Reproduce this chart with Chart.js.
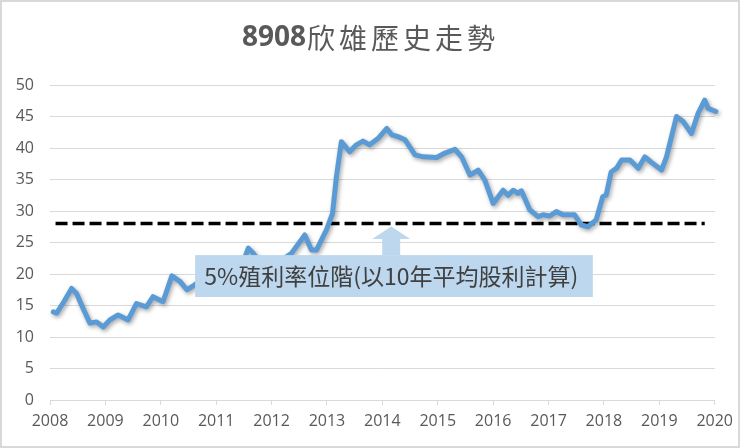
<!DOCTYPE html>
<html>
<head>
<meta charset="utf-8">
<script src="https://cdn.jsdelivr.net/npm/chart.js@4.4.1/dist/chart.umd.min.js"></script>
<style>
  html, body { margin: 0; padding: 0; background: #fff; }
  #wrap { width: 740px; height: 448px; position: relative; }
</style>
</head>
<body>
<div id="wrap"><canvas id="price-chart"></canvas></div>
<script>
// 8908 monthly-ish closing trend
const priceYears = [
  2008.06, 2008.12, 2008.25, 2008.39, 2008.48, 2008.60, 2008.72, 2008.84, 2008.96,
  2009.08, 2009.23, 2009.41, 2009.56, 2009.74, 2009.86,
  2010.04, 2010.20, 2010.35, 2010.47, 2010.60, 2010.75, 2010.90,
  2011.05, 2011.20, 2011.35, 2011.50, 2011.58, 2011.67, 2011.80, 2011.95,
  2012.10, 2012.25, 2012.36, 2012.60, 2012.72, 2012.81, 2012.99,
  2013.10, 2013.17, 2013.26, 2013.41, 2013.53, 2013.65, 2013.77, 2013.92,
  2014.08, 2014.17, 2014.28, 2014.41, 2014.59, 2014.74, 2014.98,
  2015.13, 2015.31, 2015.43, 2015.58, 2015.73, 2015.85,
  2016.00, 2016.18, 2016.27, 2016.36, 2016.45, 2016.51, 2016.66, 2016.81, 2016.90,
  2017.02, 2017.14, 2017.26, 2017.47, 2017.59, 2017.71, 2017.86, 2017.98,
  2018.04, 2018.13, 2018.23, 2018.32, 2018.47, 2018.62, 2018.74, 2018.86,
  2019.04, 2019.13, 2019.31, 2019.43, 2019.58, 2019.70, 2019.82, 2019.88, 2020.02
];
const priceValues = [
  14.0, 13.8, 15.6, 17.7, 16.9, 14.5, 12.2, 12.4, 11.6,
  12.7, 13.5, 12.7, 15.3, 14.8, 16.4,
  15.6, 19.7, 18.8, 17.5, 18.2, 19.2, 18.6,
  20.2, 19.6, 21.0, 22.2, 24.1, 23.3, 21.8, 21.2,
  22.0, 22.6, 23.3, 26.2, 23.8, 23.8, 27.0,
  29.6, 35.4, 41.0, 39.4, 40.5, 41.1, 40.5, 41.5,
  43.1, 42.1, 41.8, 41.3, 38.9, 38.6, 38.5,
  39.2, 39.8, 38.6, 35.7, 36.5, 34.9,
  31.2, 33.3, 32.5, 33.3, 32.8, 33.2, 30.2, 29.1, 29.4,
  29.2, 29.9, 29.4, 29.4, 27.8, 27.5, 28.6, 32.3,
  32.5, 36.2, 36.8, 38.1, 38.1, 36.8, 38.6, 37.7,
  36.5, 38.6, 45.0, 44.2, 42.3, 45.5, 47.6, 46.3, 45.8
];

// 5% yield level (10-year average dividend)
const yieldLevel = 28;
const yieldFrom = 2008.1;
const yieldTo = 2019.82;

const yearLabels = ['2008', '2009', '2010', '2011', '2012', '2013', '2014',
                    '2015', '2016', '2017', '2018', '2019', '2020'];

const titleNum = '8908';
const titleText = '欣雄歷史走勢';
const noteText = '5%殖利率位階(以10年平均股利計算)';

const grey = '#595959';
const gridGrey = '#d9d9d9';

// white background + outer frame, title drawn in two weights
const framePlugin = {
    id: 'frame',
    beforeDraw(chart) {
        const c = chart.ctx;
        c.save();
        c.fillStyle = '#fff';
        c.fillRect(0, 0, chart.width, chart.height);
        c.strokeStyle = gridGrey;
        c.lineWidth = 2;
        c.strokeRect(1, 1, chart.width - 2, chart.height - 2);

        c.fillStyle = grey;
        c.textBaseline = 'middle';
        c.font = 'bold 28px "Open Sans", sans-serif';
        const w1 = c.measureText(titleNum).width;
        c.font = '28px "Noto Sans CJK TC", sans-serif';
        c.letterSpacing = '4px';
        const w2 = c.measureText(titleText).width;
        let x = 370 - (w1 + w2) / 2;
        c.letterSpacing = '0px';
        c.font = 'bold 28px "Open Sans", sans-serif';
        c.fillText(titleNum, x, 38);
        c.font = '28px "Noto Sans CJK TC", sans-serif';
        c.letterSpacing = '4px';
        c.fillText(titleText, x + w1 + 1, 38);
        c.restore();
    }
};

// soft drop shadow under the price line, like the office chart
const shadowPlugin = {
    id: 'lineShadow',
    beforeDatasetDraw(chart, args) {
        if (args.index !== 0) return;
        const c = chart.ctx;
        c.save();
        c.shadowColor = 'rgba(0,0,0,0.35)';
        c.shadowBlur = 4;
        c.shadowOffsetX = 1.5;
        c.shadowOffsetY = 2;
    },
    afterDatasetDraw(chart, args) {
        if (args.index !== 0) return;
        chart.ctx.restore();
    }
};

// the label box with its arrow pointing at the dashed level
const notePlugin = {
    id: 'note',
    afterDatasetsDraw(chart) {
        const c = chart.ctx;
        const xs = chart.scales.x, ys = chart.scales.y;
        const left = xs.getPixelForValue(2010.62);
        const right = xs.getPixelForValue(2017.8);
        const top = ys.getPixelForValue(23.0);
        const bottom = ys.getPixelForValue(16.35);
        const cx = xs.getPixelForValue(2014.16);
        const tipY = ys.getPixelForValue(yieldLevel) + 3;

        c.save();
        c.fillStyle = '#bdd7ee';
        c.fillRect(left, top, right - left, bottom - top);

        // arrow
        c.beginPath();
        c.moveTo(cx - 9, top);
        c.lineTo(cx - 9, top - 16);
        c.lineTo(cx - 19, top - 16);
        c.lineTo(cx, tipY);
        c.lineTo(cx + 19, top - 16);
        c.lineTo(cx + 9, top - 16);
        c.lineTo(cx + 9, top);
        c.closePath();
        c.fill();

        c.fillStyle = '#404040';
        c.font = '23px "Noto Sans CJK TC", sans-serif';
        c.textAlign = 'center';
        c.textBaseline = 'middle';
        c.fillText(noteText, cx, (top + bottom) / 2);
        c.restore();
    }
};

const ctx = document.getElementById('price-chart').getContext('2d');

const priceChart = new Chart(ctx, {
    type: 'line',
    data: {
        datasets: [{
            label: '8908',
            data: priceYears.map((yr, i) => ({x: yr, y: priceValues[i]})),
            borderColor: '#5b9bd5',
            borderWidth: 5,
            borderJoinStyle: 'round',
            borderCapStyle: 'round',
            pointRadius: 0,
            tension: 0,
            clip: false,
        }, {
            label: '5%',
            data: [{x: yieldFrom, y: yieldLevel}, {x: yieldTo, y: yieldLevel}],
            borderColor: '#000',
            borderWidth: 3.5,
            borderDash: [12, 5],
            pointRadius: 0,
        }]
    },
    options: {
        responsive: true,
        maintainAspectRatio: false,
        animation: false,
        layout: {padding: {top: 85, right: 25, left: 0, bottom: 0}},
        plugins: {
            legend: {display: false},
            tooltip: {enabled: false},
        },
        scales: {
            x: {
                type: 'linear',
                min: 2008,
                max: 2020,
                afterFit: (scale) => { scale.height = 48; },
                ticks: {
                    stepSize: 1,
                    autoSkip: false,
                    maxRotation: 0,
                    padding: 7,
                    color: grey,
                    font: {family: '"Open Sans"', size: 16},
                    callback: (v) => yearLabels[Math.round(v) - 2008],
                },
                grid: {drawOnChartArea: false, drawTicks: true, tickLength: 5, color: gridGrey},
                border: {display: true, color: gridGrey, width: 1},
            },
            y: {
                min: 0,
                max: 50,
                afterFit: (scale) => { scale.width = 50; },
                ticks: {
                    stepSize: 5,
                    padding: 16,
                    color: grey,
                    font: {family: '"Open Sans"', size: 16},
                },
                grid: {color: gridGrey, drawTicks: false},
                border: {display: false},
            }
        }
    },
    plugins: [framePlugin, shadowPlugin, notePlugin]
});
</script>
</body>
</html>
